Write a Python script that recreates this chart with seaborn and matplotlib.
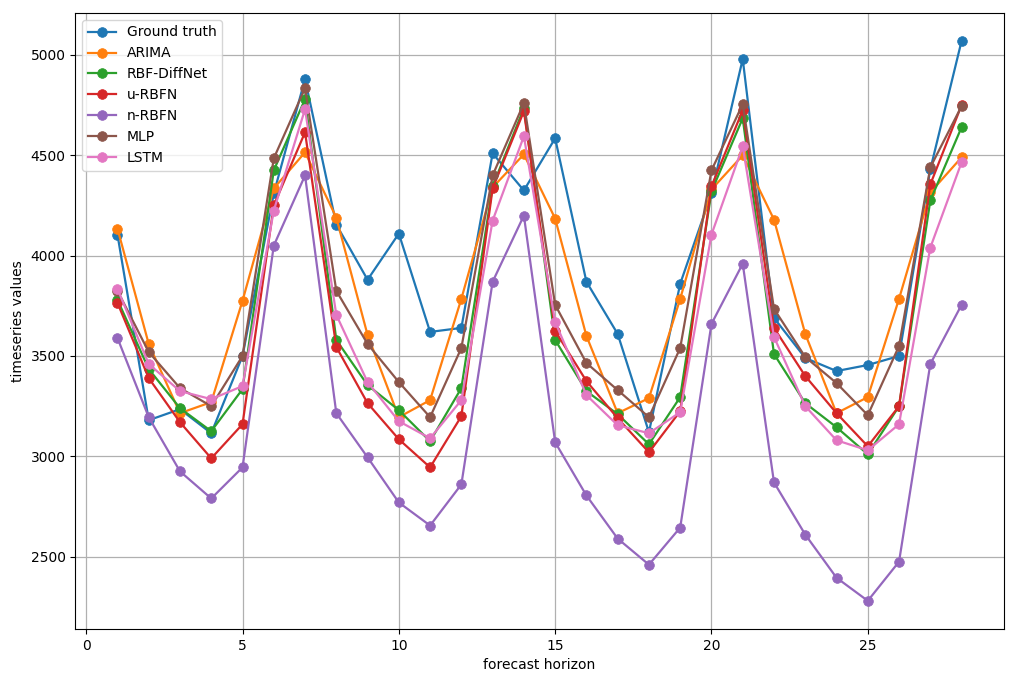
import numpy as np
import pandas as pd
import matplotlib
matplotlib.use("Agg")
import matplotlib.pyplot as plt
import seaborn as sns

horizon = list(range(1, 29))

ground_truth = [4105, 3180, 3235, 3115, 3500, 4310, 4880, 4155, 3880, 4110, 3620, 3640, 4510, 4325,
                4585, 3870, 3610, 3120, 3860, 4310, 4980, 3690, 3490, 3425, 3455, 3500, 4430, 5070]
arima = [4135, 3560, 3215, 3270, 3775, 4335, 4515, 4190, 3605, 3195, 3280, 3785, 4340, 4505,
         4185, 3600, 3215, 3290, 3785, 4330, 4500, 4180, 3610, 3215, 3295, 3785, 4315, 4490]
rbf_diffnet = [3780, 3435, 3240, 3125, 3335, 4425, 4780, 3580, 3355, 3230, 3075, 3340, 4345, 4735,
               3580, 3325, 3210, 3060, 3295, 4320, 4685, 3510, 3265, 3145, 3010, 3250, 4275, 4640]
u_rbfn = [3765, 3390, 3170, 2990, 3160, 4250, 4615, 3545, 3265, 3085, 2945, 3200, 4335, 4720,
          3625, 3375, 3190, 3020, 3225, 4345, 4725, 3640, 3400, 3215, 3050, 3250, 4355, 4750]
n_rbfn = [3590, 3195, 2925, 2790, 2945, 4050, 4400, 3215, 2995, 2770, 2655, 2860, 3870, 4200,
          3070, 2805, 2590, 2460, 2645, 3660, 3960, 2870, 2610, 2395, 2280, 2475, 3460, 3755]
mlp = [3825, 3520, 3340, 3250, 3500, 4485, 4835, 3825, 3560, 3370, 3195, 3540, 4400, 4760,
       3755, 3465, 3330, 3195, 3540, 4425, 4755, 3735, 3495, 3365, 3205, 3550, 4440, 4745]
lstm = [3835, 3460, 3325, 3285, 3350, 4225, 4730, 3705, 3370, 3175, 3090, 3280, 4175, 4595,
        3670, 3305, 3155, 3115, 3220, 4105, 4545, 3595, 3250, 3080, 3030, 3160, 4040, 4465]

labels = ["Ground truth", "ARIMA", "RBF-DiffNet", "u-RBFN", "n-RBFN", "MLP", "LSTM"]
series = [ground_truth, arima, rbf_diffnet, u_rbfn, n_rbfn, mlp, lstm]

df = pd.DataFrame({"horizon": horizon})
for name, vals in zip(labels, series):
    df[name] = vals

colors = sns.color_palette("tab10", len(labels))

fig, ax = plt.subplots(figsize=(10.17, 6.82), dpi=100)
for name, c in zip(labels, colors):
    sns.lineplot(data=df, x="horizon", y=name, ax=ax, color=c, marker="o",
                 markersize=7, markeredgecolor=c, markeredgewidth=0.5,
                 linewidth=1.6, label=name)

ax.set_xlabel("forecast horizon")
ax.set_ylabel("timeseries values")
ax.set_xticks([0, 5, 10, 15, 20, 25])
ax.grid(True, color="#b0b0b0", linewidth=0.9)
ax.set_axisbelow(True)
ax.legend(loc="upper left")

fig.subplots_adjust(left=0.074, right=0.987, top=0.981, bottom=0.078)
fig.savefig("out.png", dpi=100)
